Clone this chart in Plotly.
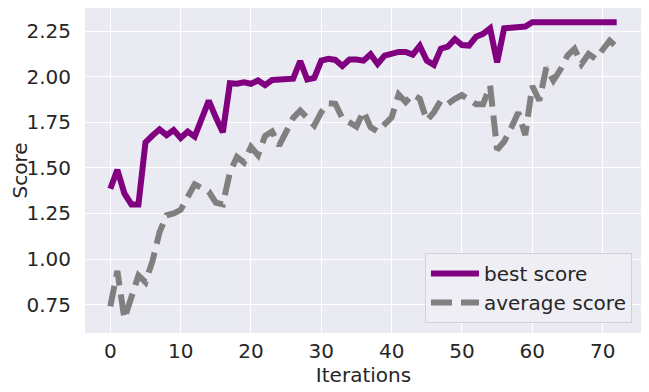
import plotly.graph_objects as go

iterations = list(range(73))

best_score = [1.386, 1.49, 1.36, 1.30, 1.30, 1.64, 1.678, 1.712, 1.68, 1.708,
              1.665, 1.70, 1.672, 1.77, 1.87, 1.778, 1.696, 1.965, 1.962, 1.97,
              1.962, 1.98, 1.955, 1.983, 1.988, 1.988, 1.99, 2.087, 1.985, 1.994,
              2.089, 2.099, 2.093, 2.06, 2.095, 2.095, 2.089, 2.124, 2.071, 2.117,
              2.13, 2.137, 2.137, 2.122, 2.17, 2.089, 2.066, 2.155, 2.166, 2.207,
              2.175, 2.172, 2.22, 2.236, 2.266, 2.08, 2.267, 2.27, 2.274, 2.276,
              2.30, 2.299, 2.298, 2.299, 2.30, 2.30, 2.30, 2.30, 2.30, 2.30,
              2.30, 2.30, 2.30]

average_score = [0.74, 0.935, 0.672, 0.80, 0.91, 0.873, 0.99, 1.148, 1.24, 1.25,
                 1.27, 1.34, 1.41, 1.39, 1.37, 1.31, 1.30, 1.475, 1.56, 1.53,
                 1.615, 1.57, 1.675, 1.70, 1.623, 1.698, 1.775, 1.815, 1.775, 1.733,
                 1.806, 1.855, 1.852, 1.772, 1.75, 1.727, 1.812, 1.724, 1.70, 1.742,
                 1.778, 1.903, 1.862, 1.903, 1.88, 1.76, 1.805, 1.87, 1.852, 1.879,
                 1.9, 1.875, 1.85, 1.85, 1.952, 1.60, 1.645, 1.72, 1.805, 1.68,
                 1.95, 1.87, 2.05, 1.98, 2.04, 2.117, 2.154, 2.071, 2.126, 2.099,
                 2.154, 2.199, 2.162]

x_ticks = [0, 10, 20, 30, 40, 50, 60, 70]
y_ticks = [0.75, 1.00, 1.25, 1.50, 1.75, 2.00, 2.25]

FONT = "DejaVu Sans"
TXT = "#262626"
FS = 20

fig = go.Figure()
fig.add_trace(go.Scatter(x=iterations, y=best_score, mode="lines", name="best score",
                         line=dict(color="#800080", width=6)))
fig.add_trace(go.Scatter(x=iterations, y=average_score, mode="lines", name="average score",
                         line=dict(color="#808080", width=6, dash="21px,9px")))

# page body has an 8px default margin, so the figure is sized 8px smaller
fig.update_layout(
    width=641, height=384,
    margin=dict(l=77, r=7, t=0, b=59, autoexpand=False),
    paper_bgcolor="white",
    plot_bgcolor="#EAEAF2",
    font=dict(family=FONT, size=FS, color=TXT),
    showlegend=True,
    legend=dict(x=0.982, y=0.031, xanchor="right", yanchor="bottom",
                itemwidth=48,
                bgcolor="rgba(238,238,244,0.9)", bordercolor="#D0D0D8", borderwidth=1,
                font=dict(family=FONT, size=FS, color=TXT)),
)
fig.update_xaxes(
    range=[-3.6, 75.6], tickvals=x_ticks, ticktext=[str(v) for v in x_ticks],
    showgrid=True, gridcolor="white", gridwidth=1.3, zeroline=False, showline=False,
    ticks="outside", ticklen=0, tickcolor="rgba(0,0,0,0)", automargin=False,
    title=dict(text="Iterations", font=dict(family=FONT, size=FS, color=TXT), standoff=0),
    tickfont=dict(family=FONT, size=FS, color=TXT),
)
fig.update_yaxes(
    range=[0.594, 2.378], tickvals=y_ticks, ticktext=["%.2f" % v for v in y_ticks],
    showgrid=True, gridcolor="white", gridwidth=1.3, zeroline=False, showline=False,
    ticks="outside", ticklen=9, tickcolor="rgba(0,0,0,0)", automargin=False,
    title=dict(text="Score", font=dict(family=FONT, size=FS, color=TXT), standoff=0),
    tickfont=dict(family=FONT, size=FS, color=TXT),
)

fig.write_html("out.html")
